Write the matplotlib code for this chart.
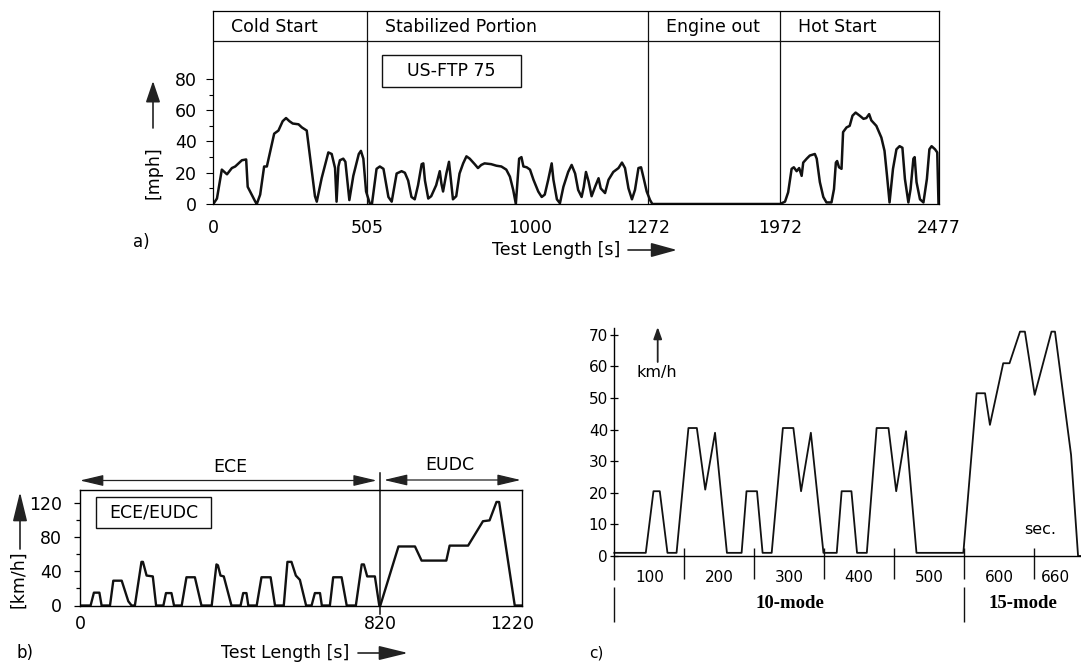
import numpy as np
import matplotlib
matplotlib.use("Agg")
import matplotlib.pyplot as plt
from matplotlib.patches import Rectangle, FancyArrowPatch

plt.rcParams["font.family"] = ["DejaVu Sans"]

W, H = 1081, 666

# ---- a) US-FTP 75 (mph over s) ----
cold_t = [0, 12, 28, 45, 61, 72, 94, 108, 113, 138, 143, 154, 167, 176, 200, 214, 228, 239,
          250, 261, 280, 291, 307, 334, 340, 356, 378, 389, 400, 405, 411, 416, 427, 434,
          447, 460, 478, 485, 493, 502]
cold_v = [0, 3.5, 22, 19, 23, 24, 28, 28.5, 11, 1.5, 0, 6, 24, 24, 45, 47, 53, 55,
          53, 51.5, 51, 49, 47, 5, 1.5, 16.5, 33, 32, 23, 1.5, 24, 28, 29, 27,
          2.5, 18, 32, 34, 29, 8]
stab_t = [514, 520, 534, 544, 555, 570, 580, 595, 610, 620, 630, 640, 650, 660, 671, 676,
          681, 691, 700, 715, 726, 731, 736, 746, 754, 761, 766, 776, 786, 797, 807, 817,
          832, 842, 852, 862, 882, 898, 913, 928, 939, 949, 957, 967, 974, 980, 990, 1000,
          1008, 1019, 1027, 1034, 1042, 1050, 1054, 1062, 1069, 1077, 1088, 1096, 1104,
          1111, 1119, 1124, 1129, 1135, 1142, 1150, 1158, 1163, 1173, 1181, 1192, 1204,
          1212, 1219, 1227, 1235, 1242, 1250, 1256, 1262, 1269, 1283, 1295]
stab_v = [0, 0, 22.5, 24, 22.5, 4.5, 1.5, 19.5, 21, 20, 15, 4.5, 3, 12, 25.5, 26,
          15, 3.5, 5, 12, 21, 13, 8, 19.5, 27, 13, 3, 5, 19.5, 26, 30.5, 29,
          25.5, 23, 25, 26, 25.5, 24.5, 24, 22, 17.5, 9, 0, 29, 30, 24, 23.5, 22,
          15.5, 8, 4.5, 6, 15.5, 26, 15.5, 3, 0.5, 11, 20.5, 25, 19.5,
          9, 4.5, 11, 20.5, 14.5, 5, 11, 16.5, 10, 7, 15.5, 20.5, 23,
          26.5, 23, 10, 3, 9, 23, 23.5, 16.5, 8, 2.5, 0]
hot_t = [1972, 1988, 1998, 2009, 2016, 2025, 2033, 2041, 2046, 2057, 2067, 2083, 2089, 2099,
         2110, 2120, 2136, 2144, 2150, 2154, 2160, 2168, 2173, 2184, 2194, 2203, 2213, 2226,
         2238, 2247, 2256, 2263, 2279, 2295, 2305, 2313, 2321, 2332, 2343, 2353, 2362, 2370,
         2381, 2388, 2397, 2401, 2407, 2418, 2429, 2440, 2448, 2455, 2466, 2473, 2477]
hot_v = [0, 1.5, 7.5, 22.5, 23.5, 21, 23, 18, 26.5, 29, 31, 32, 29, 14,
         4.5, 1, 1, 9.5, 26.5, 27.5, 23.5, 22.5, 46, 49, 50, 56.5, 58.5, 56.5,
         54.5, 55, 57.5, 53.5, 50, 42.5, 34, 18, 1, 22.5, 35, 37, 36, 16,
         1, 9.5, 29, 30, 14, 3, 1, 16, 35, 37, 35, 33, 0]
ftp_ticks = [0, 505, 1000, 1272, 1972, 2477]
ftp_phase_start = [0, 505, 1272, 1972]
ftp_phases = ["Cold Start", "Stabilized Portion", "Engine out", "Hot Start"]

# ---- b) ECE / EUDC (km/h over s) ----
ece_t = [0, 29, 38, 53, 59, 82, 91, 114, 132, 141, 150, 168, 172, 182, 199, 208,
         228, 235, 250, 257, 278, 291, 314, 332, 360, 373, 377, 384, 393, 414,
         439, 446, 455, 460, 483, 496, 521, 533, 557, 567, 578, 590, 601, 618,
         633, 642, 656, 661, 683, 692, 715, 729, 754, 770, 776, 785, 806, 818,
         821, 876, 926, 946, 1021, 1031, 1087, 1132, 1152, 1173, 1181, 1228, 1250]
ece_v = [0, 0, 15, 15, 0, 0, 29, 29, 5, 0, 0, 51, 51, 35, 34, 0,
         0, 14.5, 14.5, 0, 0, 33, 33, 0, 0, 48, 47, 35, 34, 0,
         0, 14.5, 14.5, 0, 0, 33, 33, 0, 0, 51, 51, 35, 30, 0,
         0, 14.5, 14.5, 0, 0, 33, 33, 0, 0, 48, 48, 34, 34, 0,
         0, 69, 69, 52.5, 52.5, 70, 70, 98.5, 99.5, 121, 121, 0, 0]
ece_ticks = [0, 820, 1220]

# ---- c) Japanese 10-15 mode (km/h over s) ----
jp_t = [0, 45, 56, 65, 76, 89, 106, 118, 130, 144, 161, 182, 189, 204, 212, 225, 241, 256,
        267, 281, 299, 318, 325, 339, 347, 361, 375, 392, 403, 417, 432, 499, 518, 530,
        537, 556, 565, 580, 587, 601, 625, 630, 653, 663, 667]
jp_v = [1, 1, 20.5, 20.5, 1, 1, 40.5, 40.5, 21, 39, 1, 1, 20.5, 20.5, 1, 1, 40.5, 40.5,
        20.5, 39, 1, 1, 20.5, 20.5, 1, 1, 40.5, 40.5, 20.5, 39.5, 1, 1, 51.5, 51.5,
        41.5, 61, 61, 71, 71, 51, 71, 71, 32, 0, 0]
jp_marks = [0, 100, 200, 300, 400, 500, 600]
jp_labels = [100, 200, 300, 400, 500, 600, 660]


def fx(x):
    return x / W


def fy(y):
    return 1 - y / H


def axes_px(l, t, r, b):
    return fig.add_axes([fx(l), fy(b), (r - l) / W, (b - t) / H])


def piecewise(tb, pb):
    return (lambda t: np.interp(t, tb, pb), lambda p: np.interp(p, pb, tb))


def arrow(x0, y0, x1, y1, style="-|>", hl=0.65, hw=0.22, ms=20, lw=1.2):
    fig.add_artist(FancyArrowPatch(
        (fx(x0), fy(y0)), (fx(x1), fy(y1)), transform=fig.transFigure,
        arrowstyle=f"{style},head_length={hl},head_width={hw}",
        mutation_scale=ms, lw=lw, color="#222", shrinkA=0, shrinkB=0))


def box(l, t, r, b, lw=1.0):
    fig.add_artist(Rectangle((fx(l), fy(b)), (r - l) / W, (b - t) / H,
                             transform=fig.transFigure, fill=False, lw=lw, color="#111"))


fig = plt.figure(figsize=(W / 100, H / 100), dpi=100)
fs = 12.5

# ================= panel a =================
ax = axes_px(213.3, 11, 938.5, 204)
ax.set_xscale("function", functions=piecewise(ftp_ticks, [213.3, 367, 530, 648, 780, 938.5]))
ftp_t = cold_t + stab_t + hot_t
ftp_v = cold_v + stab_v + hot_v
ax.plot(ftp_t, ftp_v, color="#111", lw=1.8, solid_joinstyle="round")
ax.set_xlim(0, 2477)
ax.set_ylim(0, 123.5)
ax.axhline(104, color="#111", lw=0.9)
for t in ftp_phase_start[1:]:
    ax.axvline(t, color="#111", lw=0.9)
for t, name in zip(ftp_phase_start, ftp_phases):
    ax.annotate(name, xy=(t, 113.3), xytext=(13, 0), textcoords="offset points",
                ha="left", va="center", fontsize=fs)
ax.set_yticks([0, 20, 40, 60, 80])
ax.set_yticks([10, 30, 50, 70], minor=True)
ax.set_xticks(ftp_ticks)
ax.set_xticklabels([str(t) for t in ftp_ticks])
ax.xaxis.set_minor_locator(matplotlib.ticker.NullLocator())
ax.tick_params(axis="y", which="major", direction="out", length=5, width=0.8, pad=7, labelsize=fs)
ax.tick_params(axis="y", which="minor", direction="out", length=3, width=0.8)
ax.tick_params(axis="x", length=0, pad=10.5, labelsize=fs)
for s in ax.spines.values():
    s.set_linewidth(0.9)

box(381.7, 55, 520.7, 86.7)
fig.text(fx(451), fy(71), "US-FTP 75", ha="center", va="center", fontsize=fs)
fig.text(fx(153), fy(173), "[mph]", rotation=90, ha="center", va="center", fontsize=fs)
arrow(153, 128, 153, 81)
fig.text(fx(556), fy(250), "Test Length [s]", ha="center", va="center", fontsize=fs)
arrow(628, 250, 677, 250, hl=0.8)
fig.text(fx(141), fy(242), "a)", ha="center", va="center", fontsize=12)

# ================= panel b =================
bx = axes_px(80, 490, 522.3, 605.5)
bx.set_xscale("function", functions=piecewise([0, 820, 1220, 1250], [80, 380, 512, 522.3]))
bx.plot(ece_t, ece_v, color="#111", lw=1.7, solid_joinstyle="round")
bx.set_xlim(0, 1250)
bx.set_ylim(0, 135)
bx.axvline(820, ymin=-0.074, ymax=1.15, color="#111", lw=1.1, clip_on=False)
bx.set_yticks([0, 40, 80, 120])
bx.set_yticks([20, 60, 100], minor=True)
bx.set_xticks(ece_ticks)
bx.set_xticklabels([str(t) for t in ece_ticks])
bx.xaxis.set_minor_locator(matplotlib.ticker.NullLocator())
bx.tick_params(axis="y", which="major", direction="out", length=4.3, width=0.9, pad=8.5, labelsize=fs)
bx.tick_params(axis="y", which="minor", direction="out", length=3, width=0.9)
bx.tick_params(axis="x", length=0, pad=6.5, labelsize=fs)
for s in bx.spines.values():
    s.set_linewidth(1.0)

box(96, 497, 211, 528)
fig.text(fx(153.5), fy(512.5), "ECE/EUDC", ha="center", va="center", fontsize=fs)
arrow(80, 480.5, 376.7, 480.5, style="<|-|>", hl=0.72, hw=0.17, lw=0.9)
arrow(384, 480, 520.7, 480, style="<|-|>", hl=0.72, hw=0.17, lw=0.9)
fig.text(fx(230), fy(467), "ECE", ha="center", va="center", fontsize=fs)
fig.text(fx(450), fy(465), "EUDC", ha="center", va="center", fontsize=fs)
fig.text(fx(18), fy(579), "[km/h]", rotation=90, ha="center", va="center", fontsize=fs)
arrow(20, 549, 20, 492, hl=0.9, hw=0.22)
fig.text(fx(285), fy(653), "Test Length [s]", ha="center", va="center", fontsize=fs)
arrow(358, 653, 408, 653, hl=0.9)
fig.text(fx(25), fy(653), "b)", ha="center", va="center", fontsize=12)

# ================= panel c =================
cx = axes_px(614.3, 328, 1081, 556)
cx.plot(jp_t, jp_v, color="#111", lw=1.3, solid_joinstyle="round", clip_on=False)
cx.set_xlim(0, 667.2)
cx.set_ylim(0, 72.15)
cx.spines["top"].set_visible(False)
cx.spines["right"].set_visible(False)
cx.spines["left"].set_linewidth(1.0)
cx.spines["bottom"].set_linewidth(1.0)
cx.set_yticks(range(0, 71, 10))
cx.tick_params(axis="y", direction="inout", length=6, width=0.9, pad=1.5, labelsize=11)
edges = [0] + jp_labels[:-1]
mids = [(a + b) / 2 for a, b in zip(edges, jp_labels)]
cx.set_xticks(mids)
cx.set_xticklabels([str(v) for v in jp_labels])
cx.tick_params(axis="x", length=0, pad=10, labelsize=11)
trans = cx.get_xaxis_transform()
cx.vlines(jp_marks[1:], -0.10, 0.035, transform=trans, color="#111", lw=1.0, clip_on=False)
cx.vlines([0], -0.105, 0, transform=trans, color="#111", lw=1.0, clip_on=False)
cx.vlines([0, 500], -0.289, -0.136, transform=trans, color="#111", lw=1.0, clip_on=False)

fig.text(fx(657), fy(373), "km/h", ha="center", va="center", fontsize=11.5)
arrow(657.7, 362, 657.7, 327, hl=0.5, hw=0.18, ms=14, lw=1.3)
fig.text(fx(1040), fy(530), "sec.", ha="center", va="center", fontsize=11.5)
fig.text(fx(790), fy(604), "10-mode", ha="center", va="center", fontsize=13.5,
         family="Liberation Serif", weight="bold")
fig.text(fx(1023), fy(604), "15-mode", ha="center", va="center", fontsize=13.5,
         family="Liberation Serif", weight="bold")
fig.text(fx(596), fy(653), "c)", ha="center", va="center", fontsize=11)

fig.savefig("out.png", dpi=100)
